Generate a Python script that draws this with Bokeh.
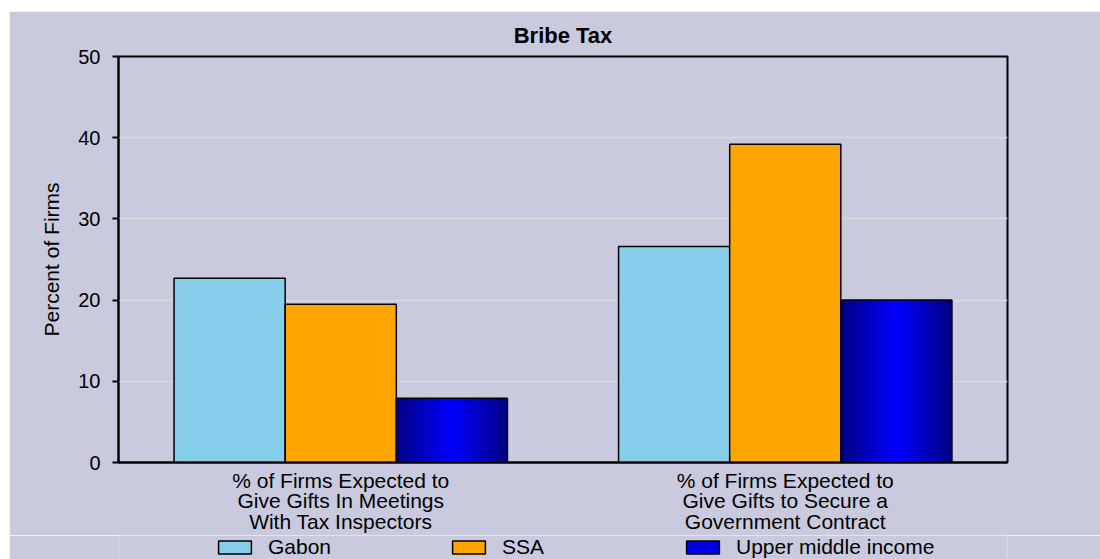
from bokeh.plotting import figure
from bokeh.models import Legend, LegendItem, ColumnDataSource, Range1d, FixedTicker
from bokeh.layouts import column
from bokeh.transform import dodge
from bokeh.embed import file_html
from bokeh.resources import INLINE

# ---- data ----
categories = [
    "% of Firms Expected to\nGive Gifts In Meetings\nWith Tax Inspectors",
    "% of Firms Expected to\nGive Gifts to Secure a\nGovernment Contract",
]
series_names = ["Gabon", "SSA", "Upper middle income"]
gabon = [22.7, 26.6]
ssa = [19.5, 39.2]
upper = [7.9, 20.0]
y_ticks = [0, 10, 20, 30, 40, 50]
chart_title = "Bribe Tax"
y_label = "Percent of Firms"

# ---- style ----
BG = "#C9CADE"
FONT = "Liberation Sans"
colors = ["#87CEEB", "#FFA500", "#0000E0"]
edge_rgb = (0, 0, 128)
mid_rgb = (0, 0, 255)

src = ColumnDataSource(dict(cat=categories, gabon=gabon, ssa=ssa, upper=upper))

p = figure(
    width=1091, height=524,
    x_range=categories, y_range=Range1d(0, 50),
    output_backend="svg", toolbar_location=None,
    title=chart_title,
    min_border_left=109, min_border_right=93, min_border_top=43, min_border_bottom=73,
    margin=(11, 0, 0, 9),
)
p.background_fill_color = BG
p.border_fill_color = BG
p.outline_line_color = "black"
p.outline_line_width = 2

p.title.align = "center"
p.title.text_font = FONT
p.title.text_font_size = "22px"
p.title.text_font_style = "bold"
p.title.text_color = "black"
p.title.standoff = 18

bw = 0.25
r_g = p.vbar(x=dodge("cat", -bw, range=p.x_range), top="gabon", width=bw, source=src,
             fill_color=colors[0], line_color="black", line_width=1.5)
r_s = p.vbar(x=dodge("cat", 0.0, range=p.x_range), top="ssa", width=bw, source=src,
             fill_color=colors[1], line_color="black", line_width=1.5)

# gradient bar for third series, built from thin overlapping slices
N = 30
sw = bw / N
for k in range(N):
    t = abs((k + 0.5) - N / 2) / (N / 2)
    rgb = tuple(int(round(m + (e - m) * t)) for m, e in zip(mid_rgb, edge_rgb))
    col = "#%02x%02x%02x" % rgb
    left = bw / 2 + k * sw
    w = sw * 1.6 if k < N - 1 else sw
    p.vbar(x=dodge("cat", left + w / 2, range=p.x_range), top="upper", width=w, source=src,
           fill_color=col, line_color=None)
p.vbar(x=dodge("cat", bw, range=p.x_range), top="upper", width=bw, source=src,
       fill_color=None, line_color="black", line_width=1.5)

# axes
p.yaxis.ticker = FixedTicker(ticks=y_ticks)
p.yaxis.axis_label = y_label
p.yaxis.axis_label_text_font = FONT
p.yaxis.axis_label_text_font_size = "21px"
p.yaxis.axis_label_text_font_style = "normal"
p.yaxis.axis_label_text_color = "black"
p.yaxis.axis_label_standoff = 12
p.yaxis.major_label_text_font = FONT
p.yaxis.major_label_text_font_size = "20px"
p.yaxis.major_label_text_color = "black"
p.yaxis.major_label_standoff = 12
p.yaxis.major_tick_in = 0
p.yaxis.major_tick_out = 6
p.yaxis.major_tick_line_width = 2
p.yaxis.minor_tick_line_color = None
p.yaxis.axis_line_width = 2
p.yaxis.axis_line_color = "black"

p.xaxis.major_label_text_font = FONT
p.xaxis.major_label_text_font_size = "21px"
p.xaxis.major_label_text_color = "black"
p.xaxis.major_label_text_line_height = 0.9
p.xaxis.major_label_standoff = 0
p.xaxis.major_tick_line_color = None
p.xaxis.axis_line_width = 2
p.xaxis.axis_line_color = "black"
p.x_range.range_padding = 0

p.xgrid.grid_line_color = None
p.ygrid.grid_line_color = "#DADADA"
p.ygrid.grid_line_width = 1.5

# ---- legend strip below the chart ----
lp = figure(width=1091, height=24, x_range=Range1d(0, 1), y_range=Range1d(0, 1),
            x_axis_type=None, y_axis_type=None,
            output_backend="svg", toolbar_location=None,
            min_border_left=109, min_border_right=93, min_border_top=0, min_border_bottom=0,
            margin=(0, 0, 0, 9))
lp.grid.visible = False
lp.outline_line_color = None
lp.background_fill_color = BG
lp.border_fill_color = BG
lp.border_fill_alpha = 1.0
# hidden proxy glyphs, used only for the legend swatches
proxies = [lp.vbar(x=[0], top=[0], width=0.1, fill_color=c, line_color="black",
                   line_width=1.5, visible=False)
           for c in colors]
legend = Legend(
    items=[LegendItem(label=n, renderers=[r]) for n, r in zip(series_names, proxies)],
    orientation="horizontal", location=(96, 0),
    background_fill_alpha=0, border_line_color=None,
    label_text_font=FONT, label_text_font_size="21px", label_text_color="black",
    glyph_width=41, glyph_height=16, label_standoff=13, label_width=176,
    spacing=4, padding=0, margin=0, inactive_fill_alpha=0,
)
lp.add_layout(legend)

layout = column(p, lp, spacing=0)
open("out.html", "w").write(file_html(layout, INLINE))
